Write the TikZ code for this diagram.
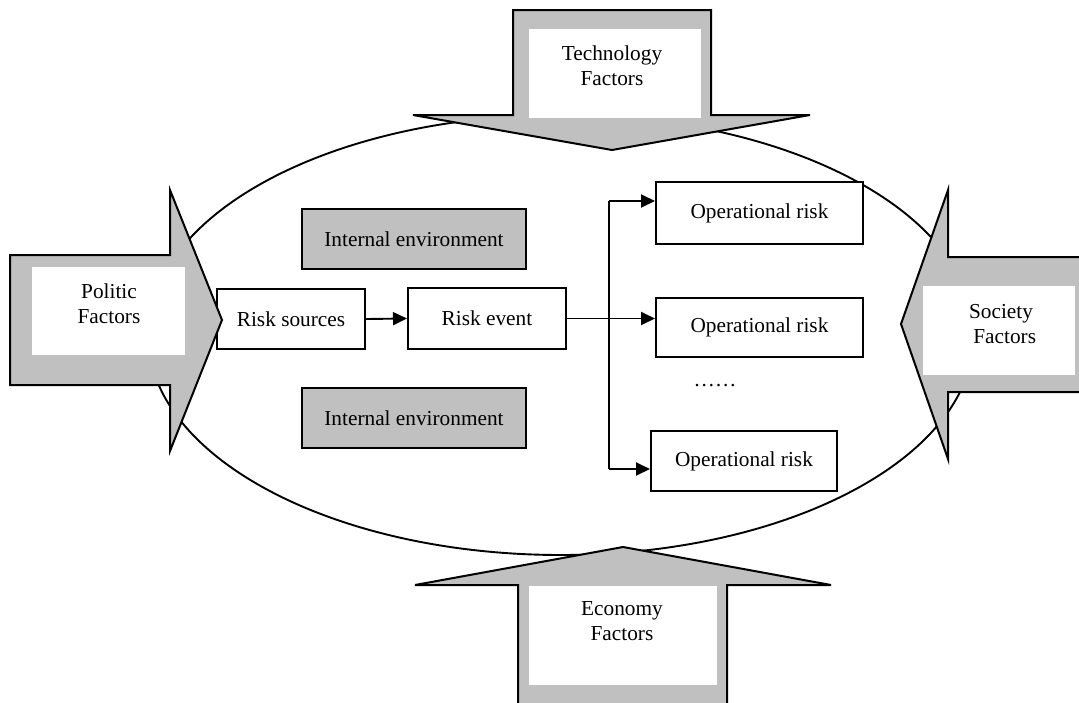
\documentclass[tikz,border=0pt]{standalone}
\usepackage{fontspec}
\setmainfont{Liberation Serif}
\usetikzlibrary{arrows.meta}
\definecolor{fgray}{HTML}{C0C0C0}
\begin{document}
\begin{tikzpicture}[x=1pt,y=-1pt,
  txt/.style={font=\fontsize{21.3}{25}\selectfont},
  box/.style={txt, draw, line width=2pt, fill=white, inner sep=0pt},
  graybox/.style={box, fill=fgray},
  bigarrow/.style={draw, fill=fgray, line width=2pt, line join=miter},
  lab/.style={txt, align=center, inner sep=0pt},
  conn/.style={line width=1.9pt},
  arr/.style={conn, -{Triangle[length=14pt,width=13pt]}}]
\useasboundingbox (0,0) rectangle (1079,702);
\clip (0,0) rectangle (1079,702);
% ellipse
\draw[line width=1.9pt] (561,335) ellipse [x radius=413pt, y radius=220pt];
% boxes
\node[graybox, minimum width=224pt, minimum height=60pt] (ie1) at (414,239) {Internal environment};
\node[graybox, minimum width=224pt, minimum height=60pt] (ie2) at (414,418) {Internal environment};
\node[box, minimum width=148pt, minimum height=60pt] (rs) at (291,319) {Risk sources};
\node[box, minimum width=158pt, minimum height=61pt] (re) at (487,318.5) {Risk event};
\node[box, minimum width=207pt, minimum height=62pt] (op1) at (759.5,213) {Operational risk};
\node[box, minimum width=207pt, minimum height=59pt] (op2) at (759.5,327.5) {Operational risk};
\node[box, minimum width=186pt, minimum height=60pt] (op3) at (744,461) {Operational risk};
\node[txt, inner sep=0pt] (dots) at (715,386) {……};
% connectors
\coordinate (b1) at (609,201);
\coordinate (b3) at (609,469);
\draw[arr] (rs.east) -- (re.west);
\draw[arr] (re.east) -- (re.east -| op2.west);
\draw[conn] (b1) -- (b3);
\draw[arr] (b1) -- (b1 -| op1.west);
\draw[arr] (b3) -- (b3 -| op3.west);
% big arrows
\draw[bigarrow] (513,10) -- (711,10) -- (711,115) -- (810,115) -- (612,150) -- (413,115) -- (513,115) -- cycle;
\fill[white] (529,29) rectangle (701,118);
\node[lab] (tech) at (612,66) {Technology\\Factors};
\draw[bigarrow] (10,255) -- (170,255) -- (170,190) -- (222,320) -- (170,451) -- (170,385) -- (10,385) -- cycle;
\fill[white] (32,267) rectangle (185,355);
\node[lab] (pol) at (109,304) {Politic\\Factors};
\draw[bigarrow] (1095,257) -- (948,257) -- (948,190) -- (901,324) -- (948,459) -- (948,392) -- (1095,392);
\fill[white] (923,286) rectangle (1075,375);
\node[lab] (soc) at (1001,324) {Society\\\hspace*{0.35em}Factors};
\draw[bigarrow] (518,715) -- (518,585) -- (415,585) -- (623,547) -- (831,585) -- (727,585) -- (727,715);
\fill[white] (529,586) rectangle (717,685);
\node[lab] (eco) at (622,621) {Economy\\Factors};
\end{tikzpicture}
\end{document}
